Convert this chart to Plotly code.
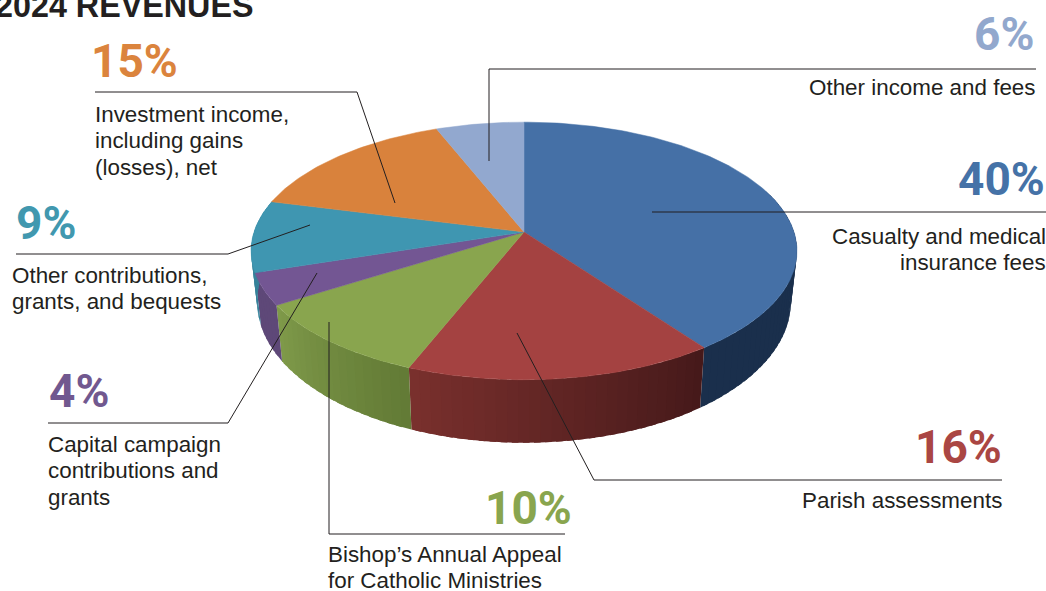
import math
import plotly.graph_objects as go

# --- data ---
categories = ["Casualty and medical insurance fees", "Parish assessments",
              "Bishop's Annual Appeal for Catholic Ministries",
              "Capital campaign contributions and grants",
              "Other contributions, grants, and bequests",
              "Investment income, including gains (losses), net",
              "Other income and fees"]
shares = [40, 16, 10, 4, 9, 15, 6]

# --- styles ---
top_colors = ["#4570a6", "#a44241", "#89a54e", "#735693", "#3f96b1", "#d9823c", "#92a8cf"]
pct_colors = ["#4572a7", "#aa4643", "#89a54e", "#71588f", "#4198af", "#db843d", "#92a8cd"]
wall_left = ["#1a2f4c", "#7a302d", "#7f9a4a", "#5e4878", "#36829a", "#a86a30", "#7080a0"]
wall_right = ["#1a2f4c", "#45191a", "#627a35", "#5e4878", "#36829a", "#a86a30", "#7080a0"]
TEXT = "#231f20"
BODY = "Liberation Sans"
PCT = "Roboto"

# projection of the pie on the page
CX = 524
TOP = dict(cy=232, a=270, b=126)
BOT = dict(cy=281, a=264, b=138)
K = -0.147


def rim(theta_deg, face):
    t = math.radians(theta_deg)
    u, v = math.sin(t), -math.cos(t)
    d = 1 + K * v
    return CX + face["a"] * u / d, face["cy"] + face["b"] * v / d


def mix(c1, c2, t):
    a = [int(c1[i:i + 2], 16) for i in (1, 3, 5)]
    b = [int(c2[i:i + 2], 16) for i in (1, 3, 5)]
    return "rgb(%d,%d,%d)" % tuple(round(a[i] + (b[i] - a[i]) * t) for i in range(3))


def wall_band(t0, t1, col):
    n = max(2, int(abs(t1 - t0)))
    ring = [rim(t0 + (t1 - t0) * j / n, TOP) for j in range(n + 1)]
    ring += [rim(t1 - (t1 - t0) * j / n, BOT) for j in range(n + 1)]
    ring.append(ring[0])
    fig.add_trace(go.Scatter(x=[p[0] for p in ring], y=[p[1] for p in ring], mode="lines",
                             fill="toself", fillcolor=col, line=dict(width=0),
                             hoverinfo="skip", showlegend=False))


fig = go.Figure()
total = sum(shares)
edges = [0]
for s in shares:
    edges.append(edges[-1] + s / total * 360)

# walls, each band overlapping the next to avoid seams
WALL_FROM, WALL_TO = 70, 285
for i in range(len(shares)):
    lo = max(edges[i], WALL_FROM)
    hi = min(edges[i + 1], WALL_TO)
    if hi <= lo:
        continue
    n = max(2, int((hi - lo) / 2))
    for j in range(n):
        t0 = lo + (hi - lo) * j / n
        t1 = hi if j == n - 1 else lo + (hi - lo) * (j + 1.6) / n
        wall_band(t0, t1, mix(wall_right[i], wall_left[i], (j + 0.5) / n))

# top faces
for i, name in enumerate(categories):
    lo, hi = edges[i], edges[i + 1]
    n = max(4, int(hi - lo))
    pts = [(CX, TOP["cy"])] + [rim(lo + (hi - lo) * j / n, TOP) for j in range(n + 1)] + [(CX, TOP["cy"])]
    fig.add_trace(go.Scatter(
        x=[p[0] for p in pts], y=[p[1] for p in pts], mode="lines", fill="toself",
        fillcolor=top_colors[i], line=dict(color=top_colors[i], width=0.5),
        name=name, hoverinfo="name", showlegend=False))

# leader lines
leaders = [
    [(652, 212), (1046, 212)],
    [(517, 333), (594, 480), (1002, 480)],
    [(329, 322), (329, 534), (565, 534)],
    [(317, 273), (228, 423), (48, 423)],
    [(310, 225), (228, 254), (16, 254)],
    [(395, 203), (357, 92), (95, 92)],
    [(489, 161), (489, 69), (1036, 69)],
]
for path in leaders:
    fig.add_trace(go.Scatter(x=[p[0] for p in path], y=[p[1] for p in path], mode="lines",
                             line=dict(color=TEXT, width=1), hoverinfo="skip", showlegend=False))

# labels: percent text, its anchor, then the description lines
labels = [
    ("40%", 1046, 179, ["Casualty and medical", "insurance fees"], 1047, 236),
    ("16%", 1003, 447, ["Parish assessments"], 1003, 500),
    ("10%", 573, 508, ["Bishop’s Annual Appeal", "for Catholic Ministries"], 327, 554),
    ("4%", 110, 391, ["Capital campaign", "contributions and", "grants"], 47, 444),
    ("9%", 77, 223, ["Other contributions,", "grants, and bequests"], 11, 275),
    ("15%", 179, 61, ["Investment income,", "including gains", "(losses), net"], 94, 114),
    ("6%", 1035, 34, ["Other income and fees"], 1037, 88),
]
annotations = []
for idx, (pct, px, py, lines, lx, ly) in enumerate(labels):
    annotations.append(dict(x=px, y=py, text="<b>%s</b>" % pct, xanchor="right", yanchor="middle",
                            showarrow=False, borderpad=0, xref="paper", yref="paper",
                            font=dict(family=PCT, size=46, color=pct_colors[idx])))
    annotations[-1]["x"] = px / 1046
    annotations[-1]["y"] = 1 - py / 591
    right = lx > 700
    for k, line in enumerate(lines):
        annotations.append(dict(x=lx / 1046, y=1 - (ly + 26.5 * k) / 591, text=line,
                                xanchor="right" if right else "left", yanchor="middle",
                                showarrow=False, borderpad=0, xref="paper", yref="paper",
                                font=dict(family=BODY, size=22.4, color=TEXT)))
annotations.append(dict(x=-6 / 1046, y=1 - 6 / 591, text="<b>2024 REVENUES</b>", xanchor="left",
                        yanchor="middle", showarrow=False, borderpad=0, xref="paper", yref="paper",
                        font=dict(family="Liberation Sans", size=32.3, color=TEXT)))

fig.update_layout(
    width=1046, height=591, margin=dict(l=0, r=0, t=0, b=0),
    paper_bgcolor="white", plot_bgcolor="white", annotations=annotations,
    xaxis=dict(range=[0, 1046], visible=False, fixedrange=True),
    yaxis=dict(range=[591, 0], visible=False, fixedrange=True),
)
fig.write_html("out.html", post_script="document.body.style.margin='0';",
               config={"displayModeBar": False})
